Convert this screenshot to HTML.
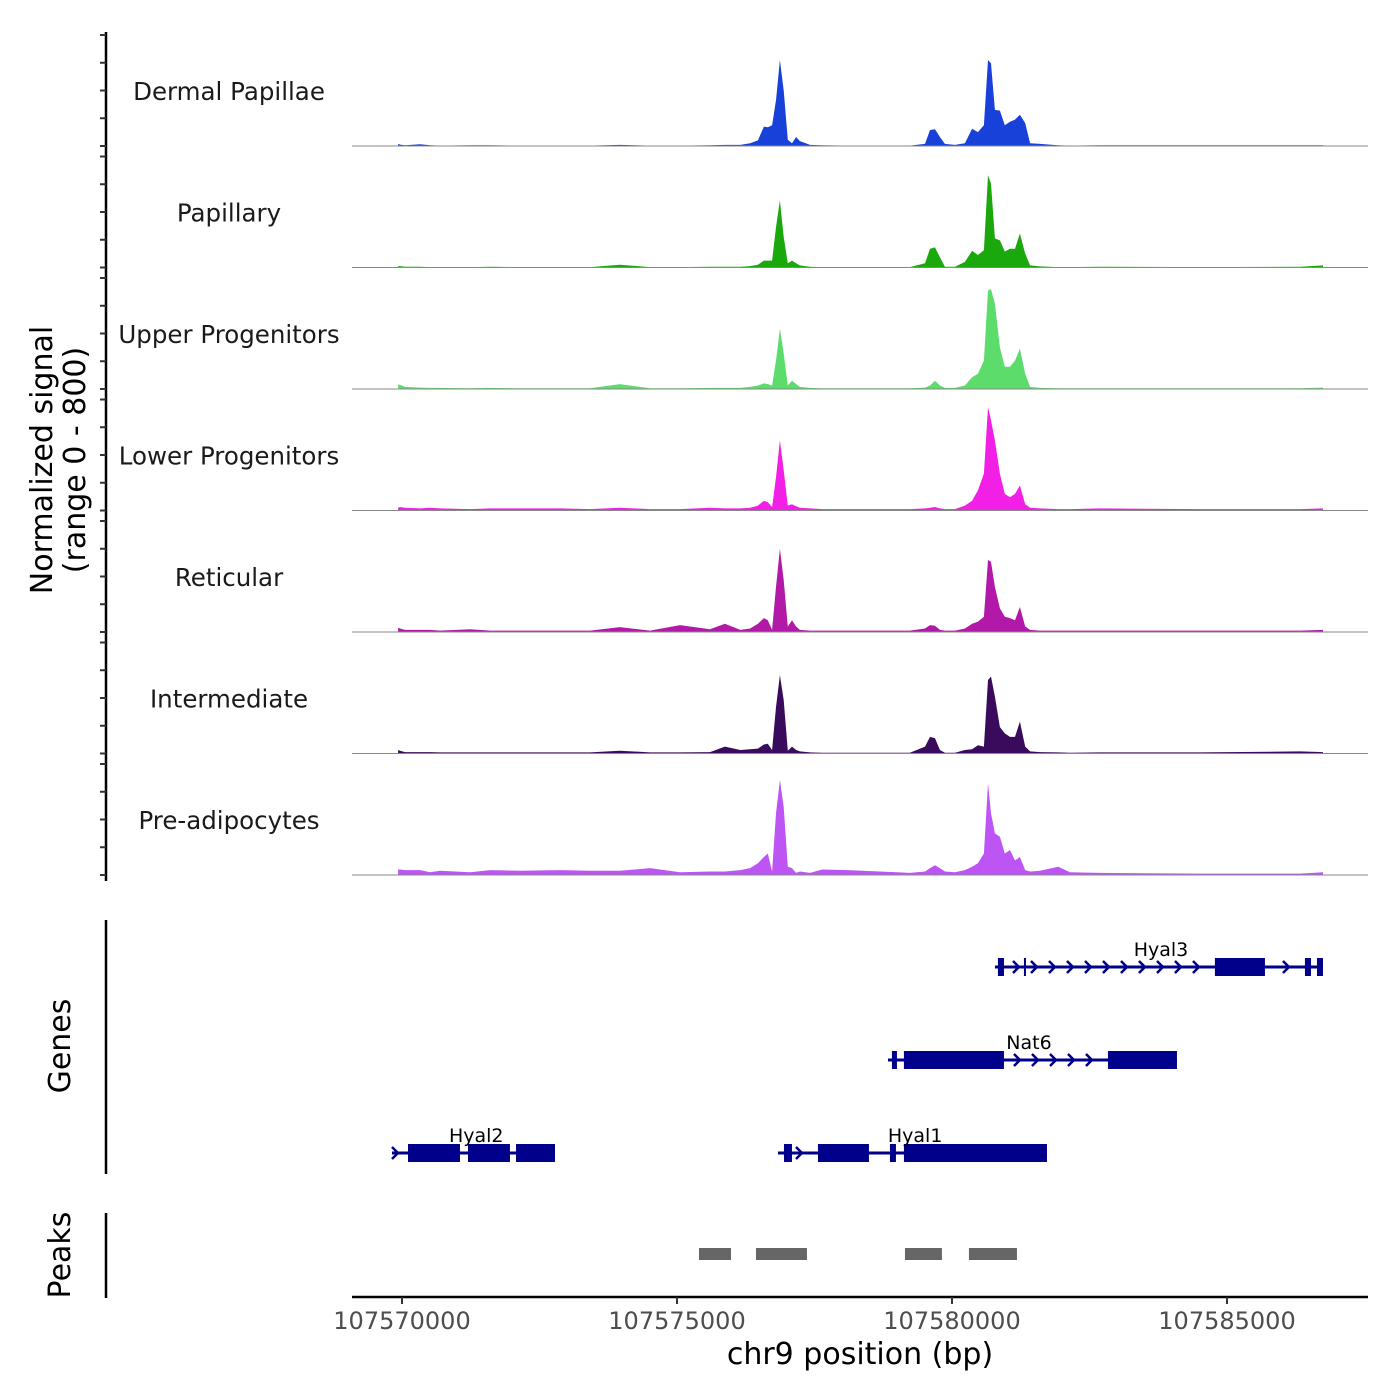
<!DOCTYPE html>
<html><head><meta charset="utf-8"><style>
html,body{margin:0;padding:0;background:#fff;}
svg{display:block;font-family:"DejaVu Sans","Liberation Sans",sans-serif;}
</style></head><body>
<svg id="chart" width="1400" height="1400" viewBox="0 0 1400 1400" xmlns="http://www.w3.org/2000/svg">
<g id="tracks"></g>
<g id="genes"></g>
<g id="peaks"></g>
<g id="xaxis"></g>
<text transform="translate(52,460) rotate(-90)" text-anchor="middle" font-size="30" fill="#000">Normalized signal</text>
<text transform="translate(85,460) rotate(-90)" text-anchor="middle" font-size="30" fill="#000">(range 0 - 800)</text>
<text transform="translate(70,1046) rotate(-90)" text-anchor="middle" font-size="30" fill="#000">Genes</text>
<text transform="translate(70,1255) rotate(-90)" text-anchor="middle" font-size="30" fill="#000">Peaks</text>
<text x="860" y="1364" text-anchor="middle" font-size="30" fill="#000">chr9 position (bp)</text>
</svg>
<script>
const positions = [107569930,107569964,107570055,107570330,107570510,107570690,107571240,107571600,107572145,107572870,107573420,107573960,107574510,107575055,107575600,107575870,107576150,107576330,107576470,107576580,107576650,107576730,107576800,107576870,107576940,107577015,107577090,107577165,107577235,107577420,107577640,107578110,107578690,107579235,107579510,107579600,107579690,107579780,107579870,107580055,107580235,107580365,107580470,107580580,107580655,107580710,107580780,107580870,107580960,107581055,107581145,107581235,107581330,107581420,107581600,107581930,107582145,107582690,107584510,107586330,107586745];
const trackNames = ["Dermal Papillae","Papillary","Upper Progenitors","Lower Progenitors","Reticular","Intermediate","Pre-adipocytes"];
const trackColors = ["#1741d9","#1aa80c","#5cdc6b","#f21fe6","#b319a9","#3a0a5c","#bd55f5"];
const dermalValues = [15,10,5,12,5,3,5,5,3,3,3,8,3,3,5,8,8,20,40,140,135,150,330,620,400,45,20,65,35,8,5,3,3,3,15,115,120,65,15,8,20,125,100,150,620,595,260,255,150,175,190,225,165,20,15,5,3,5,5,5,5];
const papillaryValues = [10,10,5,5,3,3,3,5,3,3,3,20,3,3,5,5,5,10,20,50,50,50,290,485,220,30,50,30,15,5,3,3,3,3,30,135,145,75,5,5,40,120,90,125,665,605,210,195,115,135,135,245,100,15,8,3,3,5,3,5,15];
const upperValues = [30,30,15,10,8,8,5,8,5,5,5,35,5,5,8,8,8,15,25,40,35,25,205,435,255,25,60,35,15,8,5,5,5,5,10,25,60,25,8,8,25,85,110,205,710,720,615,300,160,160,205,290,110,15,8,5,5,5,5,5,10];
const lowerValues = [20,25,20,15,20,15,10,15,15,15,10,20,10,10,20,15,15,20,35,70,60,25,240,505,290,35,45,30,20,15,10,10,10,10,15,20,25,15,10,10,35,70,145,265,745,650,505,265,120,95,120,180,45,20,15,10,10,15,10,10,15];
const reticularValues = [30,25,15,15,15,10,20,10,10,10,10,35,10,50,20,60,15,25,60,100,85,15,325,600,375,40,85,40,15,10,10,10,10,10,25,50,45,15,10,10,25,60,75,110,520,505,325,170,110,100,85,180,40,15,10,10,10,10,10,10,15];
const intermediateValues = [25,20,10,10,10,8,8,8,8,8,8,20,8,8,10,50,25,30,35,65,70,25,335,565,385,20,50,25,15,8,5,5,5,5,50,120,110,25,5,5,25,30,60,50,530,555,410,190,145,120,120,230,50,15,10,8,5,8,8,15,10];
const preadipValues = [40,40,35,35,20,30,20,35,30,35,30,30,50,20,25,25,35,50,85,130,155,25,445,685,490,60,50,15,25,15,40,35,25,15,25,50,70,50,25,20,35,60,85,155,660,445,300,275,155,180,105,130,35,25,30,60,20,15,10,10,20];
const xTicks = [107570000,107575000,107580000,107585000];
const yTicks = [0,200,400,600,800];
const geneNames = ["Hyal3","Nat6","Hyal1","Hyal2"];
const geneStarts = [107580781,107578836,107576836,107569818];
const geneEnds = [107586745,107584090,107581727,107572782];
const geneRows = [0,1,2,2];
const geneExons = [
 [[107580835,107580945],[107581308,107581345],[107584780,107585690],[107586417,107586527],[107586636,107586745]],
 [[107578908,107578999],[107579126,107580945],[107582836,107584090]],
 [[107576945,107577090],[107577563,107578490],[107578872,107578981],[107579126,107581727]],
 [[107570109,107571054],[107571200,107571963],[107572073,107572782]]
];
const geneLabelPos = [107583800,107581400,107579330,107571350];
const peakStarts = [107575400,107576436,107579145,107580308];
const peakEnds = [107575982,107577363,107579817,107581181];

const NS='http://www.w3.org/2000/svg';
function mk(tag,attrs,parent){const e=document.createElementNS(NS,tag);for(const k in attrs)e.setAttribute(k,attrs[k]);parent.appendChild(e);return e;}
const X0=402, PXPERBP=0.055;
function xScale(bp){return X0+(bp-107570000)*PXPERBP;}
const TRACK_SPACING=121.5, BASE0=146, TRACK_H=111;
function yScale(v,i){return BASE0+i*TRACK_SPACING - v/800*TRACK_H;}

const tracks=document.getElementById('tracks');
const allVals=[dermalValues,papillaryValues,upperValues,lowerValues,reticularValues,intermediateValues,preadipValues];
const yl=mk('line',{x1:106,y1:32,x2:106,y2:881,stroke:'#000','stroke-width':2.5},tracks);


allVals.forEach((vals,i)=>{
  const base=yScale(0,i);
  let d='M'+xScale(positions[0]).toFixed(1)+','+base;
  for(let j=0;j<positions.length;j++){d+=' L'+xScale(positions[j]).toFixed(1)+','+yScale(vals[j],i).toFixed(1);}
  d+=' L'+xScale(positions[positions.length-1]).toFixed(1)+','+base+' Z';
  const p=mk('path',{d:d,fill:trackColors[i]},tracks);
  
  
  const bl=mk('line',{x1:352,y1:base,x2:1368,y2:base,stroke:'#888','stroke-width':1},tracks);
  
  
  yTicks.forEach(t=>{
    const tk=mk('line',{x1:100,y1:yScale(t,i),x2:106,y2:yScale(t,i),stroke:'#333','stroke-width':2},tracks);
    
    
  });
  const lb=mk('text',{x:229,y:base-46,'text-anchor':'middle','font-size':24.5,fill:'#1a1a1a'},tracks);
  lb.textContent=trackNames[i];
  
  
});

const genes=document.getElementById('genes');
const gl=mk('line',{x1:106,y1:920,x2:106,y2:1174,stroke:'#000','stroke-width':2.5},genes);


const rowY=[967,1060,1153];
const GC='#00008b';
geneNames.forEach((g,i)=>{
  const y=rowY[geneRows[i]];
  const x1=xScale(geneStarts[i]), x2=xScale(geneEnds[i]);
  const grp=mk('g',{},genes);
  
  
  mk('line',{x1:x1,y1:y,x2:x2,y2:y,stroke:GC,'stroke-width':3},grp);
  const ex=geneExons[i];
  const inEx=(x)=>ex.some(e=>x>=xScale(e[0])-4&&x<=xScale(e[1])+4);
  for(let x=x1+3;x<=x2;x+=18){
    if(inEx(x))continue;
    mk('polyline',{points:(x-3)+','+(y-6)+' '+(x+3)+','+y+' '+(x-3)+','+(y+6),fill:'none',stroke:GC,'stroke-width':2.5},grp);
  }
  ex.forEach(e=>{
    const r=mk('rect',{x:xScale(e[0]),y:y-9,width:Math.max(2,xScale(e[1])-xScale(e[0])),height:18,fill:GC},grp);
    
    
  });
  const t=mk('text',{x:xScale(geneLabelPos[i]),y:y-11,'text-anchor':'middle','font-size':19,fill:'#000'},grp);
  t.textContent=g;
  
  
});

const peaks=document.getElementById('peaks');
const pl=mk('line',{x1:106,y1:1213,x2:106,y2:1298,stroke:'#000','stroke-width':2.5},peaks);


peakStarts.forEach((s,i)=>{
  const r=mk('rect',{x:xScale(s),y:1248,width:xScale(peakEnds[i])-xScale(s),height:12,fill:'#666'},peaks);
  
  
});

const xa=document.getElementById('xaxis');
const al=mk('line',{x1:352,y1:1297,x2:1368,y2:1297,stroke:'#000','stroke-width':2.5},xa);


xTicks.forEach(t=>{
  const tk=mk('line',{x1:xScale(t),y1:1297,x2:xScale(t),y2:1304,stroke:'#333','stroke-width':2},xa);
  
  
  const tl=mk('text',{x:xScale(t),y:1329,'text-anchor':'middle','font-size':24,fill:'#4d4d4d'},xa);
  tl.textContent=String(t);
  
  
});
</script>
</body></html>
